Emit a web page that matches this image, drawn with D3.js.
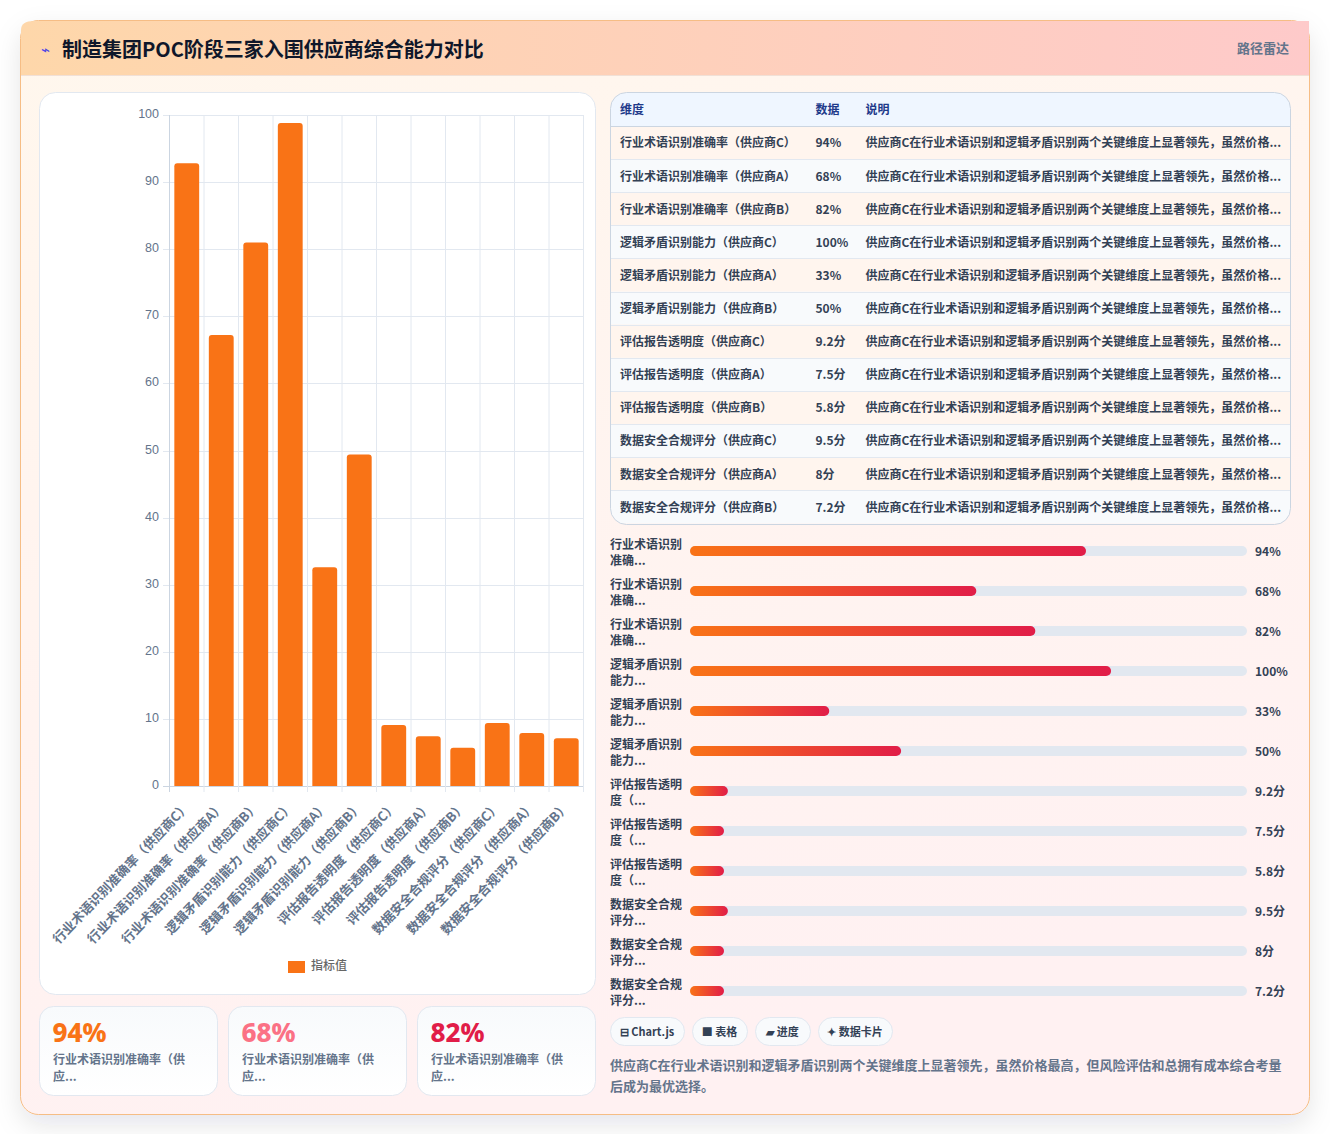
<!DOCTYPE html>
<html lang="zh">
<head>
<meta charset="utf-8">
<title>制造集团POC阶段三家入围供应商综合能力对比</title>
<script src="https://cdn.jsdelivr.net/npm/d3@7/dist/d3.min.js"></script>
<style>
html,body{margin:0;padding:0;background:#fff;}
svg{display:block;}
text{font-family:"Noto Sans CJK SC","Noto Sans",sans-serif;}
</style>
</head>
<body>
<svg id="page" width="1330" height="1136"></svg>
<script>
// Dashboard content; \uFF08 \uFF09 \uFF0C are the full-width brackets and comma
const titleText = "制造集团POC阶段三家入围供应商综合能力对比";
const badgeText = "路径雷达";
const seriesName = "指标值";
const dimensions = [
  "行业术语识别准确率\uFF08供应商C\uFF09","行业术语识别准确率\uFF08供应商A\uFF09","行业术语识别准确率\uFF08供应商B\uFF09",
  "逻辑矛盾识别能力\uFF08供应商C\uFF09","逻辑矛盾识别能力\uFF08供应商A\uFF09","逻辑矛盾识别能力\uFF08供应商B\uFF09",
  "评估报告透明度\uFF08供应商C\uFF09","评估报告透明度\uFF08供应商A\uFF09","评估报告透明度\uFF08供应商B\uFF09",
  "数据安全合规评分\uFF08供应商C\uFF09","数据安全合规评分\uFF08供应商A\uFF09","数据安全合规评分\uFF08供应商B\uFF09"
];
const barValues = [92.8,67.2,81,98.8,32.6,49.4,9.1,7.4,5.7,9.4,7.9,7.1];
const yTicks = [0,10,20,30,40,50,60,70,80,90,100];
const dataLabels = ["94%","68%","82%","100%","33%","50%","9.2分","7.5分","5.8分","9.5分","8分","7.2分"];
const noteShort = "供应商C在行业术语识别和逻辑矛盾识别两个关键维度上显著领先\uFF0C虽然价格...";
const tableHeads = ["维度","数据","说明"];
const progressLines = [
  ["行业术语识别","准确..."],["行业术语识别","准确..."],["行业术语识别","准确..."],
  ["逻辑矛盾识别","能力..."],["逻辑矛盾识别","能力..."],["逻辑矛盾识别","能力..."],
  ["评估报告透明","度\uFF08..."],["评估报告透明","度\uFF08..."],["评估报告透明","度\uFF08..."],
  ["数据安全合规","评分..."],["数据安全合规","评分..."],["数据安全合规","评分..."]
];
const progressFill = [71.1,51.4,62,75.6,25,37.9,6.8,6.1,6.1,6.8,6.1,6.1];
const kpiValues = ["94%","68%","82%"];
const kpiColors = ["#f97316","#fb7185","#e11d48"];
const kpiLines = ["行业术语识别准确率\uFF08供","应..."];
const tagLabels = ["⊟ Chart.js","■ 表格","▰ 进度","✦ 数据卡片"];
const tagLefts = [610,692,755,818];
const tagRights = [684,747,810,892];
const summaryLines = [
  "供应商C在行业术语识别和逻辑矛盾识别两个关键维度上显著领先\uFF0C虽然价格最高\uFF0C但风险评估和总拥有成本综合考量",
  "后成为最优选择。"
];

const svg = d3.select("#page");
const defs = svg.append("defs");

function linear(id, stops, x2 = 1, y2 = 0) {
  const g = defs.append("linearGradient").attr("id", id)
    .attr("x1", 0).attr("y1", 0).attr("x2", x2).attr("y2", y2);
  stops.forEach((c, i) => g.append("stop").attr("offset", i / (stops.length - 1)).attr("stop-color", c));
}
linear("cardBg", ["#fff7ed", "#fff1f2"], 0.3, 1);
linear("headBg", ["#fed7aa", "#fecaca"]);
linear("fillBg", ["#f97316", "#e11d48"]);
linear("kpiBg", ["#f8fafc", "#ffffff"], 0, 1);

const shadow = defs.append("filter").attr("id", "cardShadow")
  .attr("x", "-5%").attr("y", "-5%").attr("width", "110%").attr("height", "110%");
shadow.append("feDropShadow").attr("dx", 0).attr("dy", 10).attr("stdDeviation", 13)
  .attr("flood-color", "#0f172a").attr("flood-opacity", 0.1);
defs.append("clipPath").attr("id", "pageClip").append("rect")
  .attr("x", 0).attr("y", 0).attr("width", 1330).attr("height", 1134);

// Outer card and header band
svg.append("g").attr("clip-path", "url(#pageClip)").append("rect")
  .attr("x", 20.5).attr("y", 20.5).attr("width", 1289).attr("height", 1094).attr("rx", 18)
  .attr("fill", "url(#cardBg)").attr("stroke", "#f6bd85").attr("filter", "url(#cardShadow)");
svg.append("path").attr("d", "M21 75V30Q21 21 34 21H1296L1309 21V75Z").attr("fill", "url(#headBg)");
svg.append("line").attr("x1", 21).attr("x2", 1309).attr("y1", 75.5).attr("y2", 75.5).attr("stroke", "#f1e0d6");
svg.append("text").attr("x", 41).attr("y", 55).attr("font-size", 15).attr("fill", "#4f46e5").text("⌁");
svg.append("text").attr("x", 62).attr("y", 56.5).attr("font-size", 20).attr("font-weight", 700).attr("fill", "#0f172a").text(titleText);
svg.append("text").attr("x", 1289).attr("y", 52.5).attr("text-anchor", "end").attr("font-size", 13).attr("font-weight", 700).attr("fill", "#64748b").text(badgeText);

// Bar chart panel
svg.append("rect").attr("x", 39.5).attr("y", 92.5).attr("width", 556).attr("height", 902).attr("rx", 16)
  .attr("fill", "#fff").attr("stroke", "#e2e8f0");

const x = d3.scaleBand().domain(dimensions).range([169.5, 583.5]).paddingInner(0.28).paddingOuter(0.14);
const y = d3.scaleLinear().domain([0, 100]).range([786, 115]);
const chart = svg.append("g");

chart.append("g").selectAll("line").data(yTicks).join("line")
  .attr("x1", 163).attr("x2", 583.5)
  .attr("y1", d => Math.round(y(d)) + 0.5).attr("y2", d => Math.round(y(d)) + 0.5)
  .attr("stroke", d => d === 0 ? "#cbd5e1" : "#e2e8f0");
const step = 414 / dimensions.length;
chart.append("g").selectAll("line").data(d3.range(dimensions.length + 1)).join("line")
  .attr("x1", i => 169.5 + i * step).attr("x2", i => 169.5 + i * step)
  .attr("y1", 115).attr("y2", 792)
  .attr("stroke", i => i === 0 ? "#cbd5e1" : "#e2e8f0");
chart.append("g").selectAll("text").data(yTicks).join("text")
  .attr("x", 159).attr("y", d => y(d) + 3).attr("text-anchor", "end")
  .attr("font-size", 12.5).attr("fill", "#64748b")
  .style("font-family", "'Liberation Sans',sans-serif").text(d => d);

chart.append("g").selectAll("path").data(dimensions).join("path")
  .attr("fill", "#f97316")
  .attr("d", (d, i) => {
    const l = x(d), w = x.bandwidth(), t = y(barValues[i]), b = y(0), r = 3;
    return `M${l} ${b}V${t + r}Q${l} ${t} ${l + r} ${t}H${l + w - r}Q${l + w} ${t} ${l + w} ${t + r}V${b}Z`;
  });
chart.append("g").selectAll("text").data(dimensions).join("text")
  .attr("transform", d => `translate(${x(d) + x.bandwidth() / 2 + 4},807.5) rotate(-46)`)
  .attr("text-anchor", "end").attr("font-size", 13).attr("font-weight", 700).attr("fill", "#64748b")
  .text(d => d);

svg.append("rect").attr("x", 288).attr("y", 961).attr("width", 17).attr("height", 12).attr("fill", "#f97316");
svg.append("text").attr("x", 311).attr("y", 970).attr("font-size", 12).attr("font-weight", 500).attr("fill", "#666").text(seriesName);

// KPI cards
const kpi = svg.append("g").selectAll("g").data(kpiValues).join("g")
  .attr("transform", (d, i) => `translate(${39.5 + i * 189},1006.5)`);
kpi.append("rect").attr("width", 178).attr("height", 89).attr("rx", 14)
  .attr("fill", "url(#kpiBg)").attr("stroke", "#e2e8f0");
kpi.append("text").attr("x", 13).attr("y", 35.5).attr("font-size", 26).attr("font-weight", 800)
  .style("font-family", "'Noto Sans',sans-serif")
  .attr("fill", (d, i) => kpiColors[i]).text(d => d);
kpiLines.forEach((line, i) => {
  kpi.append("text").attr("x", 13.5).attr("y", 57.5 + i * 17).attr("font-size", 12).attr("font-weight", 700)
    .attr("fill", "#64748b").text(line);
});

// Data table
const tableTop = 93, headH = 33, rowH = 33.12;
const tableW = 680;
defs.append("clipPath").attr("id", "tableClip").append("rect")
  .attr("x", 610.5).attr("y", 92.5).attr("width", tableW).attr("height", 432).attr("rx", 16);
const table = svg.append("g");
const tableBody = table.append("g").attr("clip-path", "url(#tableClip)");
tableBody.append("rect").attr("x", 610).attr("y", tableTop).attr("width", 682).attr("height", headH).attr("fill", "#eff6ff");
tableBody.selectAll(".row").data(dimensions).join("rect").attr("class", "row")
  .attr("x", 610).attr("y", (d, i) => tableTop + headH + i * rowH)
  .attr("width", 682).attr("height", rowH)
  .attr("fill", (d, i) => i % 2 ? "#f8fafc" : "#fff5ee");
tableBody.selectAll(".rule").data(d3.range(dimensions.length)).join("line").attr("class", "rule")
  .attr("x1", 610).attr("x2", 1292)
  .attr("y1", i => Math.round(tableTop + headH + i * rowH) + 0.5)
  .attr("y2", i => Math.round(tableTop + headH + i * rowH) + 0.5)
  .attr("stroke", i => i === 0 ? "#cbd5e1" : "#e2e8f0");
table.append("rect").attr("x", 610.5).attr("y", 92.5).attr("width", tableW).attr("height", 432).attr("rx", 16)
  .attr("fill", "none").attr("stroke", "#cbd5e1");
const colX = [620, 815.5, 865.5];
table.selectAll(".head").data(tableHeads).join("text").attr("class", "head")
  .attr("x", (d, i) => colX[i]).attr("y", 114).attr("font-size", 12).attr("font-weight", 700)
  .attr("fill", "#1e3a8a").text(d => d);
const rowText = (i) => tableTop + headH + i * rowH + 21.4;
[dimensions, dataLabels, dimensions.map(() => noteShort)].forEach((col, c) => {
  table.append("g").selectAll("text").data(col).join("text")
    .attr("x", colX[c]).attr("y", (d, i) => rowText(i)).attr("font-size", 12).attr("font-weight", 700)
    .attr("fill", "#334155").text(d => d);
});

// Progress rows
const pct = d3.scaleLinear().domain([0, 100]).range([0, 557]);
const prog = svg.append("g").selectAll("g").data(progressFill).join("g")
  .attr("transform", (d, i) => `translate(0,${551 + i * 40})`);
prog.append("rect").attr("x", 690).attr("y", -5).attr("width", pct(100)).attr("height", 10).attr("rx", 5).attr("fill", "#e2e8f0");
prog.append("rect").attr("x", 690).attr("y", -5).attr("width", d => pct(d)).attr("height", 10).attr("rx", 5).attr("fill", "url(#fillBg)");
prog.append("text").attr("x", 610).attr("y", -2.5).attr("font-size", 12).attr("font-weight", 700).attr("fill", "#334155").text((d, i) => progressLines[i][0]);
prog.append("text").attr("x", 610).attr("y", 13.5).attr("font-size", 12).attr("font-weight", 700).attr("fill", "#334155").text((d, i) => progressLines[i][1]);
prog.append("text").attr("x", 1255).attr("y", 5).attr("font-size", 12).attr("font-weight", 700).attr("fill", "#334155").text((d, i) => dataLabels[i]);

// Tech tags and summary note
const tags = svg.append("g").selectAll("g").data(tagLabels).join("g");
tags.append("rect").attr("x", (d, i) => tagLefts[i] + 0.5).attr("y", 1017.5)
  .attr("width", (d, i) => tagRights[i] - tagLefts[i]).attr("height", 28).attr("rx", 14)
  .attr("fill", "#f8fafc").attr("stroke", "#e2e8f0");
tags.append("text").attr("x", (d, i) => (tagLefts[i] + tagRights[i]) / 2).attr("y", 1036)
  .attr("text-anchor", "middle").attr("font-size", 11).attr("font-weight", 700).attr("fill", "#334155").text(d => d);
svg.append("g").selectAll("text").data(summaryLines).join("text")
  .attr("x", 610).attr("y", (d, i) => 1070 + i * 21).attr("font-size", 13).attr("font-weight", 700)
  .attr("fill", "#64748b").text(d => d);
</script>
</body>
</html>
